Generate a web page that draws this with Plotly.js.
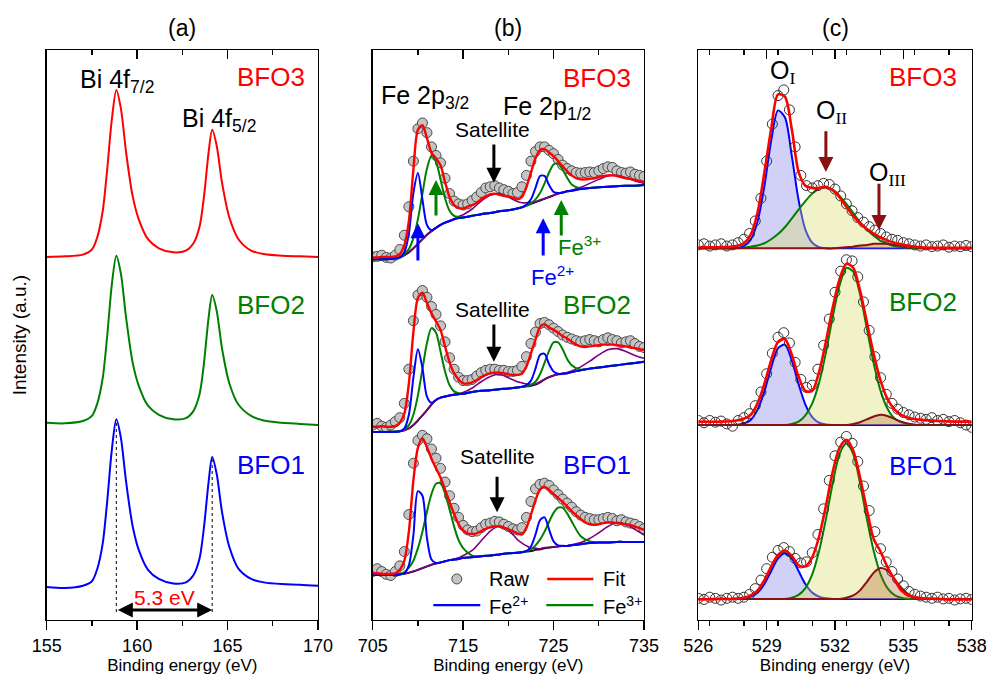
<!DOCTYPE html>
<html><head><meta charset="utf-8">
<script src="https://cdn.plot.ly/plotly-3.0.1.min.js"></script>
<style>html,body{margin:0;padding:0;background:#fff}</style>
</head><body>
<div id="chart" style="width:987px;height:681px"></div>
<script>
// ---------- Panel (a): Bi 4f ----------
const aX = [155,156,157,157.5,157.8,158.1,158.35,158.6,158.85,159.1,159.4,159.75,160.1,160.6,161.2,162,162.7,163.1,163.45,163.7,163.95,164.15,164.4,164.7,165.1,165.6,166.3,167,168,169,170];
const aBFO1 = [0.58,0.56,0.60,0.68,0.90,1.35,2.10,2.98,3.52,3.20,2.40,1.65,1.22,0.88,0.72,0.64,0.66,0.78,1.08,1.64,2.42,2.86,2.56,1.88,1.28,0.90,0.72,0.66,0.63,0.62,0.60];
const aBFO2 = [3.46,3.45,3.49,3.58,3.80,4.25,5.00,5.88,6.39,6.08,5.28,4.52,4.10,3.76,3.60,3.52,3.54,3.66,3.96,4.52,5.30,5.70,5.42,4.75,4.15,3.78,3.58,3.50,3.46,3.44,3.42];
const aBFO3 = [6.37,6.38,6.41,6.50,6.72,7.18,7.92,8.78,9.30,8.98,8.18,7.44,7.02,6.68,6.52,6.45,6.48,6.60,6.90,7.44,8.20,8.60,8.32,7.66,7.06,6.68,6.48,6.42,6.39,6.38,6.37];
const aPeaks = [158.85, 164.15];

// ---------- Panel (b): Fe 2p ----------
const bX = [705,705.5,706,706.5,707,707.5,708,708.5,709,709.5,710,710.5,711,711.5,712,712.5,713,713.5,714,714.5,715,715.5,716,716.5,717,717.5,718,718.5,719,719.5,720,720.5,721,721.5,722,722.5,723,723.5,724,724.5,725,725.5,726,726.5,727,727.5,728,728.5,729,729.5,730,730.5,731,731.5,732,732.5,733,733.5,734,734.5,735];
const bRaw3 = [6.37,6.38,6.40,6.36,6.35,6.40,6.50,6.75,7.25,8.05,8.62,8.72,8.55,8.30,8.15,8.02,7.75,7.48,7.35,7.30,7.28,7.30,7.36,7.42,7.50,7.58,7.60,7.62,7.58,7.55,7.52,7.48,7.50,7.60,7.80,8.05,8.22,8.30,8.30,8.24,8.18,8.08,7.98,7.92,7.88,7.85,7.84,7.85,7.86,7.85,7.88,7.92,7.95,7.94,7.88,7.85,7.84,7.86,7.82,7.80,7.78];
const bFit3 = [6.36,6.36,6.37,6.37,6.37,6.38,6.42,6.58,7.00,7.90,8.60,8.68,8.45,8.20,8.10,7.98,7.68,7.42,7.28,7.23,7.22,7.25,7.28,7.32,7.38,7.43,7.47,7.48,7.46,7.44,7.43,7.41,7.38,7.42,7.60,7.85,8.10,8.24,8.26,8.20,8.14,8.05,7.96,7.87,7.80,7.75,7.73,7.73,7.74,7.75,7.77,7.79,7.80,7.80,7.79,7.77,7.75,7.74,7.72,7.70,7.69];
const bRaw2 = [3.42,3.45,3.40,3.38,3.42,3.48,3.55,3.80,4.40,5.25,5.70,5.78,5.66,5.50,5.36,5.16,4.88,4.60,4.40,4.26,4.20,4.20,4.22,4.28,4.34,4.38,4.40,4.40,4.38,4.38,4.36,4.36,4.38,4.45,4.62,4.85,5.05,5.20,5.22,5.18,5.12,5.06,5.00,4.96,4.93,4.90,4.88,4.90,4.92,4.90,4.88,4.92,4.95,4.92,4.90,4.86,4.88,4.90,4.85,4.80,4.78];
const bFit2 = [3.39,3.39,3.40,3.39,3.39,3.40,3.46,3.62,4.15,5.05,5.65,5.74,5.56,5.38,5.24,5.09,4.80,4.52,4.33,4.22,4.15,4.15,4.17,4.21,4.26,4.30,4.33,4.34,4.34,4.33,4.31,4.30,4.30,4.32,4.45,4.68,4.92,5.14,5.19,5.13,5.09,5.04,4.98,4.94,4.88,4.83,4.80,4.79,4.80,4.81,4.82,4.83,4.83,4.83,4.82,4.81,4.80,4.78,4.77,4.75,4.74];
const bRaw1 = [0.85,0.90,0.85,0.80,0.78,0.85,0.95,1.20,1.85,2.75,3.15,3.24,3.18,3.00,2.84,2.66,2.42,2.18,1.96,1.80,1.66,1.58,1.55,1.56,1.62,1.68,1.70,1.73,1.72,1.68,1.64,1.60,1.58,1.62,1.80,2.08,2.30,2.38,2.40,2.36,2.28,2.20,2.12,2.05,1.98,1.90,1.84,1.80,1.78,1.76,1.76,1.78,1.80,1.78,1.74,1.76,1.72,1.70,1.68,1.64,1.60];
const bFit1 = [0.82,0.82,0.81,0.81,0.81,0.82,0.88,1.04,1.55,2.45,3.02,3.19,3.03,2.83,2.66,2.50,2.29,2.07,1.86,1.68,1.57,1.52,1.51,1.52,1.56,1.60,1.63,1.64,1.64,1.62,1.59,1.56,1.52,1.50,1.62,1.85,2.10,2.29,2.34,2.28,2.21,2.14,2.07,1.99,1.91,1.84,1.77,1.71,1.68,1.67,1.68,1.70,1.71,1.71,1.70,1.69,1.68,1.67,1.64,1.61,1.58];

const bCX = [705,706.5,708,708.5,709,709.5,710,710.5,711,711.5,712,712.5,713,713.5,714,714.5,715,716,717,718,719,720,721,721.5,722,722.5,723,723.5,724,724.5,725,725.5,726,726.5,727,728,729,730,731,732,733,734,735];
const bBg3  = [6.33,6.33,6.36,6.40,6.45,6.52,6.60,6.68,6.76,6.82,6.88,6.93,6.97,7.00,7.03,7.05,7.06,7.09,7.12,7.14,7.17,7.19,7.22,7.24,7.27,7.30,7.33,7.36,7.39,7.42,7.45,7.48,7.50,7.52,7.53,7.56,7.58,7.59,7.60,7.61,7.62,7.62,7.63];
const bFe2_3 = [6.33,6.33,6.36,6.45,6.78,7.49,7.84,7.38,6.93,6.84,6.88,6.93,6.97,7.00,7.03,7.05,7.06,7.09,7.12,7.14,7.17,7.19,7.22,7.24,7.29,7.38,7.58,7.79,7.79,7.63,7.51,7.49,7.50,7.52,7.53,7.56,7.58,7.59,7.60,7.61,7.62,7.62,7.63];
const bFe3_3 = [6.33,6.33,6.36,6.42,6.51,6.70,7.03,7.48,7.92,8.14,8.04,7.73,7.40,7.18,7.09,7.07,7.06,7.09,7.12,7.14,7.17,7.19,7.22,7.24,7.27,7.31,7.38,7.49,7.66,7.85,7.99,8.01,7.90,7.76,7.64,7.57,7.58,7.59,7.60,7.61,7.62,7.62,7.63];
const bSat3 = [6.33,6.33,6.36,6.40,6.45,6.52,6.60,6.68,6.76,6.82,6.88,6.93,6.97,7.00,7.04,7.08,7.11,7.21,7.35,7.45,7.48,7.42,7.34,7.32,7.32,7.33,7.34,7.37,7.39,7.42,7.45,7.48,7.50,7.52,7.54,7.59,7.66,7.73,7.79,7.80,7.76,7.70,7.66];
const bBg2  = [3.30,3.30,3.31,3.33,3.36,3.42,3.50,3.59,3.68,3.78,3.86,3.90,3.92,3.94,3.95,3.96,3.97,4.00,4.02,4.03,4.05,4.06,4.08,4.09,4.10,4.11,4.13,4.17,4.22,4.26,4.29,4.31,4.32,4.33,4.35,4.38,4.41,4.43,4.45,4.47,4.49,4.51,4.53];
const bFe2_2 = [3.30,3.30,3.31,3.36,3.60,4.25,4.75,4.42,3.92,3.81,3.86,3.90,3.92,3.94,3.95,3.96,3.97,4.00,4.02,4.03,4.05,4.06,4.08,4.09,4.12,4.20,4.41,4.65,4.67,4.49,4.36,4.32,4.32,4.33,4.35,4.38,4.41,4.43,4.45,4.47,4.49,4.51,4.53];
const bFe3_2 = [3.30,3.30,3.31,3.35,3.42,3.60,3.94,4.40,4.86,5.12,5.04,4.71,4.36,4.12,4.01,3.98,3.97,4.00,4.02,4.03,4.05,4.06,4.08,4.09,4.10,4.13,4.18,4.31,4.51,4.72,4.87,4.87,4.75,4.58,4.47,4.39,4.41,4.43,4.45,4.47,4.49,4.51,4.53];
const bSat2 = [3.30,3.30,3.31,3.33,3.36,3.42,3.50,3.59,3.68,3.78,3.86,3.90,3.92,3.94,3.96,3.97,3.99,4.07,4.18,4.27,4.31,4.25,4.18,4.16,4.14,4.13,4.14,4.18,4.22,4.26,4.29,4.31,4.33,4.34,4.37,4.44,4.54,4.65,4.74,4.76,4.71,4.64,4.59];
const bBg1  = [0.79,0.79,0.80,0.81,0.83,0.85,0.88,0.91,0.94,0.97,0.99,1.01,1.03,1.05,1.06,1.07,1.09,1.10,1.12,1.13,1.15,1.17,1.18,1.19,1.20,1.21,1.23,1.24,1.26,1.27,1.28,1.29,1.30,1.30,1.31,1.33,1.35,1.36,1.36,1.37,1.37,1.37,1.37];
const bFe2_1 = [0.79,0.79,0.80,0.82,0.96,1.49,2.26,2.18,1.44,1.06,1.00,1.01,1.03,1.05,1.06,1.07,1.09,1.10,1.12,1.13,1.15,1.17,1.18,1.19,1.21,1.29,1.50,1.75,1.80,1.59,1.38,1.31,1.30,1.30,1.31,1.33,1.35,1.36,1.36,1.37,1.37,1.37,1.37];
const bFe3_1 = [0.79,0.79,0.81,0.84,0.92,1.04,1.26,1.55,1.90,2.21,2.39,2.40,2.22,1.94,1.64,1.40,1.26,1.13,1.12,1.13,1.15,1.17,1.18,1.19,1.21,1.24,1.31,1.41,1.55,1.72,1.88,1.97,1.97,1.87,1.73,1.47,1.38,1.36,1.36,1.37,1.37,1.37,1.37];
const bSat1 = [0.79,0.79,0.80,0.81,0.83,0.85,0.88,0.91,0.94,0.97,0.99,1.01,1.03,1.05,1.07,1.09,1.13,1.22,1.39,1.56,1.65,1.58,1.41,1.35,1.30,1.26,1.26,1.25,1.27,1.27,1.28,1.29,1.30,1.30,1.32,1.36,1.43,1.53,1.64,1.71,1.68,1.59,1.49];

// ---------- Panel (c): O 1s ----------
const cX = [526,527,527.5,528,528.3,528.6,528.9,529.2,529.5,529.8,530.1,530.4,530.7,531.0,531.3,531.6,531.9,532.2,532.5,532.8,533.1,533.4,533.7,534.0,534.3,534.6,534.9,535.3,535.8,536.5,537.2,538];
const cRawX = [526,526.25,526.5,526.75,527,527.25,527.5,527.75,528,528.25,528.5,528.75,529,529.25,529.5,529.75,530,530.25,530.5,530.75,531,531.25,531.5,531.75,532,532.25,532.5,532.75,533,533.25,533.5,533.75,534,534.25,534.5,534.75,535,535.25,535.5,535.75,536,536.25,536.5,536.75,537,537.25,537.5,537.75,538];
const cBaseX = [526, 538];
const cBase3 = [6.52, 6.52];
const cBase2 = [3.42, 3.42];
const cBase1 = [0.37, 0.37];
const cRaw3 = [6.58,6.60,6.56,6.58,6.60,6.56,6.58,6.62,6.68,6.78,7.00,7.40,8.05,8.70,9.20,9.30,8.95,8.30,7.80,7.62,7.58,7.62,7.66,7.64,7.56,7.44,7.30,7.18,7.06,6.98,6.90,6.84,6.78,6.72,6.68,6.66,6.62,6.60,6.58,6.56,6.58,6.55,6.56,6.58,6.54,6.56,6.55,6.57,6.55];
const cFit3 = [6.54,6.54,6.55,6.61,6.76,7.15,7.85,8.62,9.22,9.18,8.62,7.86,7.62,7.58,7.58,7.60,7.54,7.42,7.25,7.09,6.96,6.86,6.78,6.71,6.66,6.62,6.59,6.56,6.54,6.53,6.53,6.53];
const cOI3  = [6.52,6.52,6.52,6.56,6.67,6.99,7.61,8.41,8.94,8.82,8.15,7.37,6.85,6.62,6.54,6.52,6.52,6.52,6.52,6.52,6.52,6.52,6.52,6.52,6.52,6.52,6.52,6.52,6.52,6.52,6.52,6.52];
const cOII3 = [6.52,6.52,6.52,6.53,6.55,6.57,6.61,6.68,6.77,6.89,7.04,7.20,7.35,7.48,7.57,7.59,7.55,7.44,7.30,7.14,6.98,6.85,6.74,6.65,6.60,6.56,6.54,6.53,6.52,6.52,6.52,6.52];
const cOIII3= [6.52,6.52,6.52,6.52,6.52,6.52,6.52,6.52,6.52,6.52,6.52,6.52,6.52,6.52,6.52,6.52,6.52,6.53,6.54,6.55,6.57,6.58,6.60,6.60,6.60,6.58,6.57,6.55,6.53,6.52,6.52,6.52];
const cRaw2 = [3.50,3.46,3.50,3.47,3.49,3.44,3.40,3.50,3.55,3.62,3.76,4.00,4.32,4.68,4.96,5.04,4.86,4.52,4.22,4.08,4.12,4.40,4.82,5.28,5.75,6.12,6.32,6.30,6.02,5.58,5.08,4.62,4.25,3.96,3.80,3.70,3.64,3.60,3.56,3.54,3.52,3.55,3.50,3.52,3.48,3.50,3.46,3.42,3.38];
const cFit2 = [3.48,3.48,3.49,3.53,3.60,3.80,4.14,4.56,4.88,4.93,4.66,4.27,4.02,4.02,4.35,4.88,5.48,5.98,6.25,6.18,5.78,5.22,4.66,4.20,3.88,3.70,3.60,3.54,3.51,3.49,3.48,3.48];
const cOI2  = [3.42,3.42,3.42,3.45,3.51,3.69,4.01,4.43,4.77,4.83,4.56,4.14,3.78,3.56,3.46,3.43,3.42,3.42,3.42,3.42,3.42,3.42,3.42,3.42,3.42,3.42,3.42,3.42,3.42,3.42,3.42,3.42];
const cOII2 = [3.42,3.42,3.42,3.42,3.42,3.42,3.42,3.42,3.42,3.42,3.44,3.48,3.59,3.80,4.16,4.69,5.32,5.87,6.18,6.11,5.71,5.11,4.50,4.02,3.71,3.54,3.47,3.43,3.42,3.42,3.42,3.42];
const cOIII2= [3.42,3.42,3.42,3.42,3.42,3.42,3.42,3.42,3.42,3.42,3.42,3.42,3.42,3.42,3.42,3.42,3.42,3.42,3.42,3.44,3.47,3.52,3.57,3.60,3.58,3.53,3.48,3.44,3.42,3.42,3.42,3.42];
const cRaw1 = [0.38,0.36,0.40,0.38,0.35,0.38,0.40,0.38,0.40,0.45,0.55,0.70,0.90,1.10,1.22,1.27,1.20,1.08,1.00,1.02,1.18,1.50,1.95,2.45,2.88,3.12,3.22,3.10,2.78,2.35,1.92,1.55,1.25,1.02,0.85,0.72,0.60,0.50,0.45,0.42,0.40,0.38,0.40,0.37,0.38,0.35,0.37,0.38,0.36];
const cFit1 = [0.36,0.37,0.37,0.39,0.43,0.52,0.70,0.94,1.14,1.22,1.13,0.96,0.94,1.10,1.46,2.00,2.60,3.02,3.16,2.97,2.50,1.93,1.42,1.20,0.93,0.72,0.52,0.42,0.38,0.37,0.36,0.36];
const cOI1  = [0.37,0.37,0.37,0.38,0.41,0.48,0.63,0.86,1.08,1.17,1.08,0.86,0.63,0.48,0.41,0.38,0.37,0.37,0.37,0.37,0.37,0.37,0.37,0.37,0.37,0.37,0.37,0.37,0.37,0.37,0.37,0.37];
const cOII1 = [0.37,0.37,0.37,0.37,0.37,0.37,0.37,0.37,0.37,0.37,0.39,0.44,0.56,0.80,1.21,1.77,2.40,2.91,3.10,2.91,2.40,1.77,1.21,0.80,0.56,0.44,0.39,0.37,0.37,0.37,0.37,0.37];
const cOIII1= [0.37,0.37,0.37,0.37,0.37,0.37,0.37,0.37,0.37,0.37,0.37,0.37,0.37,0.37,0.37,0.37,0.37,0.37,0.39,0.43,0.52,0.67,0.83,0.91,0.87,0.72,0.57,0.43,0.38,0.37,0.37,0.37];

// ---------- styling ----------
const FONT = 'Liberation Sans, Arial, sans-serif';
const RED = '#ff0000', GREEN = '#008000', BLUE = '#0000ff', PURPLE = '#800080', DARKRED = '#8b1010', BLACK = '#111111';

function ln(x, y, color, width, xa, ya, extra) {
  return Object.assign({x: x, y: y, type: 'scatter', mode: 'lines', xaxis: xa, yaxis: ya,
    line: {color: color, width: width, shape: 'spline', smoothing: 0.8}, hoverinfo: 'skip'}, extra || {});
}
function raw(x, y, xa, ya, open) {
  return {x: x, y: y, type: 'scatter', mode: 'markers', xaxis: xa, yaxis: ya, hoverinfo: 'skip',
    marker: open ? {symbol: 'circle-open', size: 10, color: '#333', line: {width: 1, color: '#333'}}
                 : {symbol: 'circle', size: 10, color: '#c4c4c4', line: {width: 1, color: '#4a4a4a'}}};
}

const traces = [];
// panel a
traces.push(ln(aX, aBFO3, RED, 2, 'x', 'y'));
traces.push(ln(aX, aBFO2, GREEN, 2, 'x', 'y'));
traces.push(ln(aX, aBFO1, BLUE, 2, 'x', 'y'));
// panel b
[[bRaw3,bFit3,bBg3,bSat3,bFe3_3,bFe2_3],[bRaw2,bFit2,bBg2,bSat2,bFe3_2,bFe2_2],[bRaw1,bFit1,bBg1,bSat1,bFe3_1,bFe2_1]].forEach(s => {
  traces.push(raw(bX, s[0], 'x2', 'y2', false));
  traces.push(ln(bCX, s[2], BLACK, 2, 'x2', 'y2'));
  traces.push(ln(bCX, s[3], PURPLE, 1.6, 'x2', 'y2'));
  traces.push(ln(bCX, s[4], GREEN, 2, 'x2', 'y2'));
  traces.push(ln(bCX, s[5], BLUE, 2, 'x2', 'y2'));
  traces.push(ln(bX, s[1], RED, 2.4, 'x2', 'y2'));
});
// panel c
[[cBase3,cOI3,cOII3,cOIII3,cRaw3,cFit3],[cBase2,cOI2,cOII2,cOIII2,cRaw2,cFit2],[cBase1,cOI1,cOII1,cOIII1,cRaw1,cFit1]].forEach(s => {
  const base = {x: cBaseX, y: s[0], type: 'scatter', mode: 'lines', xaxis: 'x3', yaxis: 'y3', line: {width: 0}, hoverinfo: 'skip'};
  traces.push(base);
  traces.push(ln(cX, s[1], BLUE, 2, 'x3', 'y3', {fill: 'tonexty', fillcolor: 'rgba(90,90,225,0.28)'}));
  traces.push(Object.assign({}, base));
  traces.push(ln(cX, s[2], GREEN, 2, 'x3', 'y3', {fill: 'tonexty', fillcolor: 'rgba(220,220,110,0.38)'}));
  traces.push(Object.assign({}, base));
  traces.push(ln(cX, s[3], DARKRED, 2, 'x3', 'y3', {fill: 'tonexty', fillcolor: 'rgba(170,85,30,0.30)'}));
  traces.push(raw(cRawX, s[4], 'x3', 'y3', true));
  traces.push(ln(cX, s[5], RED, 2.6, 'x3', 'y3'));
});
// empty traces to anchor the top tick axes
traces.push({x: [], y: [], xaxis: 'x4', yaxis: 'y', type: 'scatter'});
traces.push({x: [], y: [], xaxis: 'x5', yaxis: 'y2', type: 'scatter'});
traces.push({x: [], y: [], xaxis: 'x6', yaxis: 'y3', type: 'scatter'});

const yDom = [0.0896, 0.9266];
function xa(dom, range, dtick, mdtick, anchor) {
  return {domain: dom, range: range, anchor: anchor, dtick: dtick, tick0: range[0],
    ticks: 'outside', ticklen: 9, tickwidth: 1.3, tickcolor: '#000',
    minor: {dtick: mdtick, ticks: 'outside', ticklen: 5, tickwidth: 1.3, tickcolor: '#000'},
    showline: true, linewidth: 1.3, linecolor: '#000', mirror: true, showgrid: false, zeroline: false,
    tickfont: {family: FONT, size: 18, color: '#000'},
    title: {text: 'Binding energy (eV)', font: {family: FONT, size: 17, color: '#000'}, standoff: 4}};
}
function xtop(over, range, dtick, mdtick, anchor) {
  return {overlaying: over, side: 'top', anchor: anchor, range: range, dtick: dtick, tick0: range[0],
    ticks: 'inside', ticklen: 9, tickwidth: 1.3, tickcolor: '#000',
    minor: {dtick: mdtick, ticks: 'inside', ticklen: 5, tickwidth: 1.3, tickcolor: '#000'},
    showticklabels: false, showline: false, showgrid: false, zeroline: false};
}
function ya(anchor) {
  return {domain: yDom, range: [0, 10], anchor: anchor, showticklabels: false, ticks: '',
    showline: true, linewidth: 1.3, linecolor: '#000', mirror: true, showgrid: false, zeroline: false};
}

function txt(x, y, text, color, size, xr, yr, extra) {
  return Object.assign({x: x, y: y, xref: xr, yref: yr, text: text, showarrow: false,
    xanchor: 'center', yanchor: 'middle',
    font: {family: FONT, size: size, color: color}}, extra || {});
}
function arrow(x, y0, y1, color, xr, yr) {
  return {x: x, y: y1, ax: x, ay: y0, xref: xr, yref: yr, axref: xr, ayref: yr, text: '',
    showarrow: true, arrowhead: 2, arrowsize: 1, arrowwidth: 3, arrowcolor: color};
}
const sub = t => '<sub><span style="font-family:Liberation Serif">' + t + '</span></sub>';

const annotations = [
  txt(0.1845, 0.959, '(a)', '#000', 23, 'paper', 'paper'),
  txt(0.5147, 0.959, '(b)', '#000', 23, 'paper', 'paper'),
  txt(0.846, 0.959, '(c)', '#000', 23, 'paper', 'paper'),
  txt(0.0195, 0.508, 'Intensity (a.u.)', '#000', 19, 'paper', 'paper', {textangle: -90}),
  // panel a
  txt(158.9, 9.45, 'Bi 4f<sub>7/2</sub>', '#000', 25, 'x', 'y'),
  txt(164.5, 8.78, 'Bi 4f<sub>5/2</sub>', '#000', 25, 'x', 'y'),
  txt(167.4, 9.53, 'BFO3', RED, 26, 'x', 'y'),
  txt(167.4, 5.53, 'BFO2', GREEN, 26, 'x', 'y'),
  txt(167.4, 2.72, 'BFO1', BLUE, 26, 'x', 'y'),
  txt(161.5, 0.40, '5.3 eV', RED, 21, 'x', 'y'),
  {x: aPeaks[1], y: 0.175, ax: aPeaks[0], ay: 0.175, xref: 'x', yref: 'y', axref: 'x', ayref: 'y', text: '',
   showarrow: true, arrowside: 'end+start', arrowhead: 2, startarrowhead: 2, arrowsize: 1, startarrowsize: 1,
   arrowwidth: 3, arrowcolor: '#000'},
  // panel b
  txt(710.8, 9.18, 'Fe 2p<sub>3/2</sub>', '#000', 25, 'x2', 'y2'),
  txt(724.3, 8.98, 'Fe 2p<sub>1/2</sub>', '#000', 25, 'x2', 'y2'),
  txt(729.8, 9.51, 'BFO3', RED, 26, 'x2', 'y2'),
  txt(729.8, 5.53, 'BFO2', GREEN, 26, 'x2', 'y2'),
  txt(729.8, 2.72, 'BFO1', BLUE, 26, 'x2', 'y2'),
  txt(718.3, 8.60, 'Satellite', '#000', 21, 'x2', 'y2'),
  txt(718.3, 5.44, 'Satellite', '#000', 21, 'x2', 'y2'),
  txt(718.75, 2.86, 'Satellite', '#000', 21, 'x2', 'y2'),
  arrow(718.4, 8.37, 7.67, '#000', 'x2', 'y2'),
  arrow(718.4, 5.21, 4.53, '#000', 'x2', 'y2'),
  arrow(718.75, 2.54, 1.89, '#000', 'x2', 'y2'),
  arrow(710.0, 6.28, 6.96, BLUE, 'x2', 'y2'),
  arrow(712.0, 7.07, 7.72, GREEN, 'x2', 'y2'),
  arrow(723.85, 6.37, 7.05, BLUE, 'x2', 'y2'),
  arrow(725.85, 6.72, 7.37, GREEN, 'x2', 'y2'),
  txt(727.9, 6.56, 'Fe<sup>3+</sup>', GREEN, 22, 'x2', 'y2'),
  txt(724.9, 6.04, 'Fe<sup>2+</sup>', BLUE, 22, 'x2', 'y2'),
  txt(717.65, 0.72, 'Raw', '#000', 20, 'x2', 'y2', {xanchor: 'left'}),
  txt(730.2, 0.72, 'Fit', '#000', 20, 'x2', 'y2', {xanchor: 'left'}),
  txt(717.65, 0.25, 'Fe<sup>2+</sup>', '#000', 20, 'x2', 'y2', {xanchor: 'left'}),
  txt(730.2, 0.25, 'Fe<sup>3+</sup>', '#000', 20, 'x2', 'y2', {xanchor: 'left'}),
  // panel c
  txt(529.7, 9.62, 'O' + sub('I'), '#000', 25, 'x3', 'y3'),
  txt(531.85, 8.92, 'O' + sub('II'), '#000', 25, 'x3', 'y3'),
  txt(534.3, 7.83, 'O' + sub('III'), '#000', 25, 'x3', 'y3'),
  txt(535.86, 9.53, 'BFO3', RED, 26, 'x3', 'y3'),
  txt(535.86, 5.58, 'BFO2', GREEN, 26, 'x3', 'y3'),
  txt(535.86, 2.70, 'BFO1', BLUE, 26, 'x3', 'y3'),
  arrow(531.6, 8.60, 7.86, DARKRED, 'x3', 'y3'),
  arrow(533.93, 7.68, 6.84, DARKRED, 'x3', 'y3')
];

const shapes = [
  {type: 'line', xref: 'x', yref: 'y', x0: aPeaks[0], x1: aPeaks[0], y0: 0.14, y1: 3.50, line: {color: '#000', width: 1, dash: 'dot'}},
  {type: 'line', xref: 'x', yref: 'y', x0: aPeaks[1], x1: aPeaks[1], y0: 0.14, y1: 2.84, line: {color: '#000', width: 1, dash: 'dot'}},
  {type: 'circle', xref: 'x2', yref: 'y2', xsizemode: 'pixel', ysizemode: 'pixel', xanchor: 714.3, yanchor: 0.72,
   x0: -5, x1: 5, y0: -5, y1: 5, fillcolor: '#c4c4c4', line: {color: '#4a4a4a', width: 1}},
  {type: 'line', xref: 'x2', yref: 'y2', x0: 724.3, x1: 729.4, y0: 0.72, y1: 0.72, line: {color: RED, width: 2.4}},
  {type: 'line', xref: 'x2', yref: 'y2', x0: 711.7, x1: 716.9, y0: 0.26, y1: 0.26, line: {color: BLUE, width: 2.4}},
  {type: 'line', xref: 'x2', yref: 'y2', x0: 724.2, x1: 729.4, y0: 0.26, y1: 0.26, line: {color: GREEN, width: 2.4}}
];

const layout = {
  width: 987, height: 681, margin: {l: 0, r: 0, t: 0, b: 0},
  paper_bgcolor: '#fff', plot_bgcolor: '#fff', showlegend: false,
  font: {family: FONT, color: '#000'},
  xaxis: xa([0.0473, 0.3222], [155, 170], 5, 2.5, 'y'),
  xaxis2: xa([0.3776, 0.6525], [705, 735], 10, 5, 'y2'),
  xaxis3: xa([0.7075, 0.9845], [526, 538], 3, 1.5, 'y3'),
  xaxis4: xtop('x', [155, 170], 5, 2.5, 'y'),
  xaxis5: xtop('x2', [705, 735], 10, 5, 'y2'),
  xaxis6: xtop('x3', [526, 538], 3, 1.5, 'y3'),
  yaxis: ya('x'), yaxis2: ya('x2'), yaxis3: ya('x3'),
  annotations: annotations, shapes: shapes
};

Plotly.newPlot('chart', traces, layout, {staticPlot: true, displayModeBar: false});
</script>
</body></html>
